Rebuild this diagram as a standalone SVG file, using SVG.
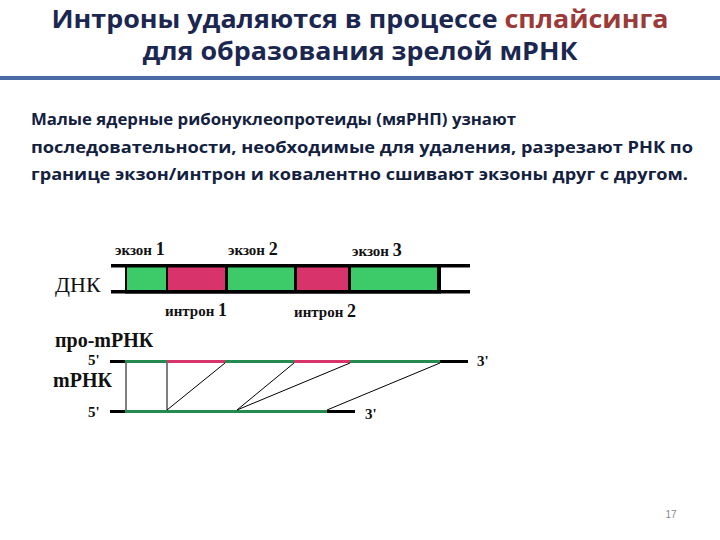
<svg xmlns="http://www.w3.org/2000/svg" width="720" height="540" viewBox="0 0 720 540">
<style>
.title{font-family:"Open Sans","Liberation Sans",sans-serif;font-weight:bold;font-size:25px;fill:#1B2750}
.body{font-family:"Open Sans","Liberation Sans",sans-serif;font-weight:bold;font-size:16px;fill:#13213F}
.lab{font-family:"Liberation Serif","DejaVu Serif",serif;font-weight:bold;font-size:15px;fill:#111}
.big{font-family:"Liberation Serif","DejaVu Serif",serif;font-size:22px;fill:#111}
.bigb{font-family:"Liberation Serif","DejaVu Serif",serif;font-weight:bold;font-size:20px;fill:#111}
.ex{fill:#3CCB68}
.in{fill:#D8336A}
.conn{stroke:#000;stroke-width:1;fill:none}
</style>
<rect width="720" height="540" fill="#fff"/>
<g id="title">
<text class="title" x="360" y="28" text-anchor="middle" textLength="617" lengthAdjust="spacingAndGlyphs">Интроны удаляются в процессе <tspan fill="#9B3A38">сплайсинга</tspan></text>
<text class="title" x="360" y="60" text-anchor="middle" textLength="435" lengthAdjust="spacingAndGlyphs">для образования зрелой мРНК</text>
<rect x="0" y="76" width="720" height="4" fill="#4A6AA5"/>
</g>
<g id="body">
<text class="body" x="31" y="125" textLength="485" lengthAdjust="spacingAndGlyphs">Малые ядерные рибонуклеопротеиды (мяРНП) узнают</text>
<text class="body" x="31" y="153" textLength="662" lengthAdjust="spacingAndGlyphs">последовательности, необходимые для удаления, разрезают РНК по</text>
<text class="body" x="31" y="180" textLength="657" lengthAdjust="spacingAndGlyphs">границе экзон/интрон и ковалентно сшивают экзоны друг с другом.</text>
</g>
<g id="dna">
<rect x="111" y="264" width="359" height="3.5" fill="#000"/>
<rect x="111" y="290" width="359" height="3.5" fill="#000"/>
<rect x="125" y="264" width="316" height="29.5" fill="#000"/>
<rect class="ex" x="127" y="267.5" width="39" height="22.5"/>
<rect class="in" x="168" y="267.5" width="57" height="22.5"/>
<rect class="ex" x="228" y="267.5" width="66" height="22.5"/>
<rect class="in" x="297" y="267.5" width="51" height="22.5"/>
<rect class="ex" x="351" y="267.5" width="86" height="22.5"/>
<text class="big" x="55" y="292">ДНК</text>
<text class="lab" x="115" y="255">экзон <tspan font-size="18">1</tspan></text>
<text class="lab" x="228" y="255">экзон <tspan font-size="18">2</tspan></text>
<text class="lab" x="352" y="256">экзон <tspan font-size="18">3</tspan></text>
<text class="lab" x="165" y="316">интрон <tspan font-size="18">1</tspan></text>
<text class="lab" x="294" y="317">интрон <tspan font-size="18">2</tspan></text>
</g>
<g id="pre-mrna">
<rect x="110" y="360" width="15" height="3" fill="#000"/>
<rect x="125" y="360" width="42" height="3" fill="#238A50"/>
<rect x="167" y="360" width="58" height="3" fill="#D8336A"/>
<rect x="225" y="360" width="69" height="3" fill="#238A50"/>
<rect x="294" y="360" width="56" height="3" fill="#D8336A"/>
<rect x="350" y="360" width="90" height="3" fill="#238A50"/>
<rect x="440" y="360" width="28" height="3" fill="#000"/>
<text class="bigb" x="55" y="347">про-mРНК</text>
<text class="lab" x="88" y="365" font-size="16">5'</text>
<text class="lab" x="477" y="366" font-size="16">3'</text>
</g>
<g id="mrna">
<rect x="110" y="410" width="15" height="3" fill="#000"/>
<rect x="125" y="410" width="202" height="3" fill="#238A50"/>
<rect x="327" y="410" width="28" height="3" fill="#000"/>
<text class="bigb" x="53" y="387" font-size="22">mРНК</text>
<text class="lab" x="88" y="417" font-size="16">5'</text>
<text class="lab" x="365" y="419" font-size="16">3'</text>
</g>
<g id="connectors">
<line class="conn" x1="126" y1="363" x2="126" y2="410"/>
<line class="conn" x1="167" y1="363" x2="167" y2="410"/>
<line class="conn" x1="225" y1="363" x2="167" y2="410"/>
<line class="conn" x1="294" y1="363" x2="237" y2="410"/>
<line class="conn" x1="350" y1="363" x2="237" y2="410"/>
<line class="conn" x1="440" y1="363" x2="327" y2="410"/>
</g>
<text x="671" y="518" text-anchor="middle" font-family="Liberation Sans, sans-serif" font-size="10" fill="#888">17</text>
</svg>
